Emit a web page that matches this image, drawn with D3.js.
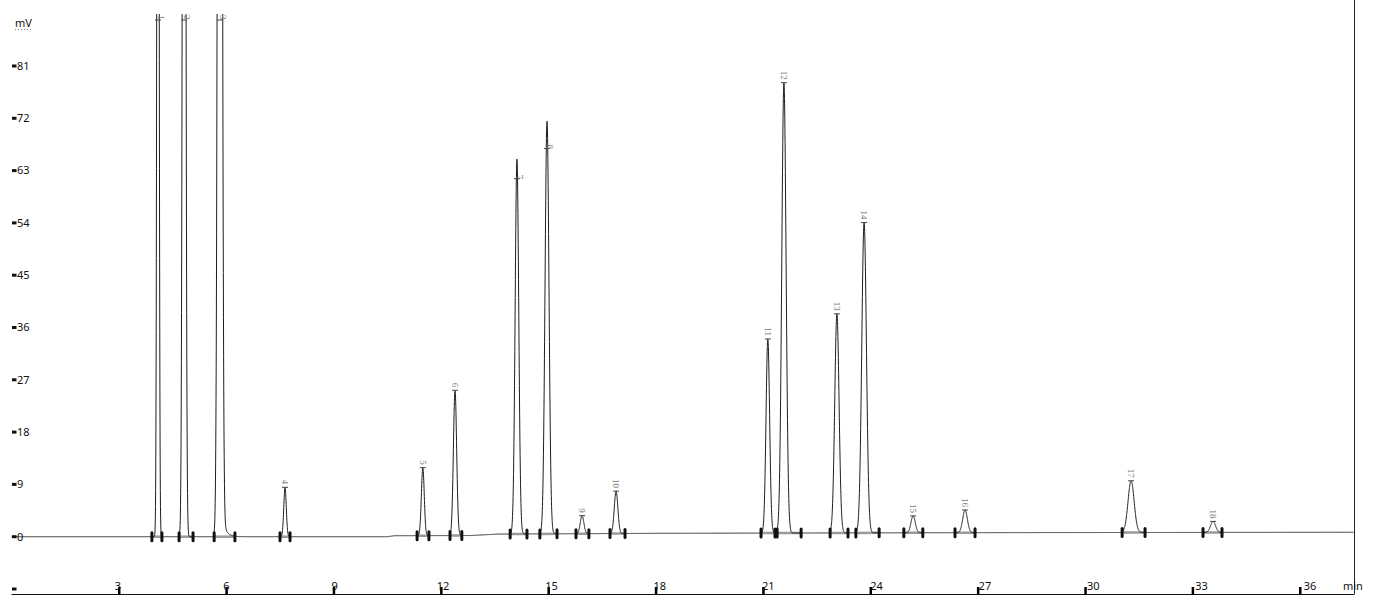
<!DOCTYPE html>
<meta charset="utf-8">
<style>
body { margin: 0; background: #fff; }
svg { display: block; font-family: "Noto Sans", sans-serif; }
</style>
<div id="chart"></div>
<script src="https://d3js.org/d3.v7.min.js"></script>
<script>

// peaks (time in min, height in mV above baseline)
var peakNames   = ["1","2","3","4","5","6","7","8","9","10","11","12","13","14","15","16","17","18"];
var peakTimes   = [4.09, 4.82, 5.82, 7.64, 11.49, 12.39, 14.12, 14.96, 15.94, 16.89, 21.13, 21.58, 23.06, 23.82, 25.19, 26.64, 31.28, 33.57];
var peakHeights = [260, 320, 420, 8.5, 11.7, 25.0, 64.5, 71.0, 3.1, 7.3, 33.4, 77.5, 37.7, 53.4, 2.9, 3.9, 8.9, 1.9];
var peakSigmas  = [0.025, 0.035, 0.045, 0.035, 0.04, 0.045, 0.05, 0.055, 0.05, 0.05, 0.05, 0.06, 0.06, 0.065, 0.06, 0.065, 0.085, 0.07];
var peakTails   = [0, 0, 6, 0, 0, 0, 0, 0, 0, 0, 0, 0, 0, 0, 0, 0, 0, 0];
// level (mV) where the peak mark sits, when it is not at the apex
var markLevels  = [null, null, null, null, null, null, 61.6, 66.8, null, null, null, null, null, null, null, null, null, null];
var startTimes  = [3.92, 4.68, 5.66, 7.50, 11.33, 12.25, 13.93, 14.76, 15.77, 16.72, 20.94, 21.39, 22.87, 23.59, 24.93, 26.36, 31.03, 33.29];
var endTimes    = [4.20, 5.07, 6.24, 7.78, 11.66, 12.58, 14.40, 15.24, 16.13, 17.14, 21.33, 22.06, 23.37, 24.24, 25.46, 26.92, 31.67, 33.82];

// baseline drift
var baseTimes  = [0, 10.5, 10.7, 12.8, 13.6, 18, 26, 37.5];
var baseValues = [0, 0, 0.17, 0.2, 0.45, 0.58, 0.69, 0.76];

var yTicks = [-9, 0, 9, 18, 27, 36, 45, 54, 63, 72, 81];
var xTicks = [3, 6, 9, 12, 15, 18, 21, 24, 27, 30, 33, 36];

var width = 1379, height = 608;

var svg = d3.select("#chart").append("svg")
  .attr("width", width)
  .attr("height", height);

var x = d3.scaleLinear().domain([0, 37.5]).range([11.6, 1353.7]);
var xLab = d3.scaleLinear().domain([3, 36]).range([118, 1310]);
var y = d3.scaleLinear().domain([0, 81]).range([536.7, 66]);
var base = d3.scaleLinear().domain(baseTimes).range(baseValues);

svg.append("clipPath").attr("id", "plot")
  .append("rect").attr("x", 11).attr("y", 14).attr("width", 1343).attr("height", 578);

// right border + time axis line
svg.append("line").attr("x1", 1354.5).attr("x2", 1354.5).attr("y1", 0).attr("y2", 594)
  .attr("stroke", "#222");
svg.append("line").attr("x1", 11.6).attr("x2", 1354.5).attr("y1", 594.5).attr("y2", 594.5)
  .attr("stroke", "#111");

// y axis
var ya = svg.append("g");
ya.selectAll("rect.tk").data(yTicks).enter().append("rect")
  .attr("class", "tk")
  .attr("x", 12).attr("y", d => y(d) - 1.5)
  .attr("width", 4.5).attr("height", 3)
  .attr("fill", "#111");
ya.selectAll("text").data(yTicks.filter(d => d >= 0)).enter().append("text")
  .attr("x", 17).attr("y", d => y(d))
  .attr("dy", "0.35em")
  .attr("font-size", 11)
  .attr("fill", "#111")
  .text(d => d);

svg.append("text").attr("x", 15).attr("y", 27).attr("font-size", 11).attr("fill", "#111").text("mV");
svg.append("line").attr("x1", 15).attr("x2", 32).attr("y1", 29.5).attr("y2", 29.5)
  .attr("stroke", "#888").attr("stroke-dasharray", "1,2");

// x axis
svg.selectAll("rect.xt").data(xTicks).enter().append("rect")
  .attr("class", "xt")
  .attr("x", d => x(d) - 1).attr("y", 587)
  .attr("width", 2.5).attr("height", 8)
  .attr("fill", "#000");
svg.selectAll("text.xl").data(xTicks).enter().append("text")
  .attr("class", "xl")
  .attr("x", d => xLab(d)).attr("y", 590)
  .attr("text-anchor", "middle")
  .attr("font-size", 11)
  .attr("fill", "#111")
  .text(d => d);
svg.append("text").attr("x", 1343).attr("y", 590).attr("font-size", 11).attr("fill", "#111").text("min");

// signal
var times = d3.range(0, 37.5, 0.004);
function signal(t) {
  var v = base(t);
  for (var i = 0; i < peakTimes.length; i++) {
    var dt = t - peakTimes[i];
    var s = peakSigmas[i];
    if (Math.abs(dt) < 8 * s) v += peakHeights[i] * Math.exp(-dt * dt / (2 * s * s));
    if (peakTails[i] && dt > 0) v += peakTails[i] * Math.exp(-dt / 0.1);
  }
  return v;
}
var trace = times.map(t => [t, signal(t)]);

var plot = svg.append("g").attr("clip-path", "url(#plot)");

// integration baselines
var peaks = peakNames.map(function(n, i) {
  var apex = peakHeights[i] + base(peakTimes[i]);
  var lv = markLevels[i] != null ? markLevels[i] : apex;
  return { name: n, t: peakTimes[i], apex: apex, level: lv, onLine: markLevels[i] != null,
           t0: startTimes[i], t1: endTimes[i] };
});
plot.selectAll("line.ib").data(peaks).enter().append("line")
  .attr("class", "ib")
  .attr("x1", d => x(d.t0)).attr("x2", d => x(d.t1))
  .attr("y1", d => y(base(d.t0))).attr("y2", d => y(base(d.t1)))
  .attr("stroke", "#9a9a9a").attr("stroke-width", 2.5);

plot.append("path")
  .datum(trace)
  .attr("fill", "none")
  .attr("stroke", "#1e1e1e")
  .attr("stroke-width", 1)
  .attr("d", d3.line().x(d => x(d[0])).y(d => y(d[1])));

// start / end marks
var marks = [];
peaks.forEach(function(p) { marks.push(p.t0, p.t1); });
plot.selectAll("rect.mk").data(marks).enter().append("rect")
  .attr("class", "mk")
  .attr("x", d => x(d) - 1.5).attr("y", d => y(base(d)) - 5.5)
  .attr("width", 3).attr("height", 11).attr("rx", 1.5)
  .attr("fill", "#111");

// peak marks and labels
var topY = 20;
function markY(d) { return Math.max(topY, y(d.level)); }
plot.selectAll("line.ap").data(peaks).enter().append("line")
  .attr("class", "ap")
  .attr("x1", d => x(d.t) - 3).attr("x2", d => x(d.t) + 3)
  .attr("y1", markY).attr("y2", markY)
  .attr("stroke", "#444");

svg.selectAll("text.pk").data(peaks).enter().append("text")
  .attr("class", "pk")
  .attr("transform", function(d) {
    if (y(d.apex) < topY) return "translate(" + (x(d.t) + 3) + "," + 15 + ") rotate(90)";
    if (d.onLine) return "translate(" + (x(d.t) + 3) + "," + (y(d.level) - 4) + ") rotate(90)";
    return "translate(" + x(d.t) + "," + (y(d.apex) - 3) + ") rotate(90)";
  })
  .attr("text-anchor", d => (y(d.apex) < topY || d.onLine) ? "start" : "end")
  .attr("dy", "0.35em")
  .attr("font-family", "Liberation Serif, serif")
  .attr("font-size", 9)
  .attr("fill", "#777")
  .text(d => d.name);

</script>
